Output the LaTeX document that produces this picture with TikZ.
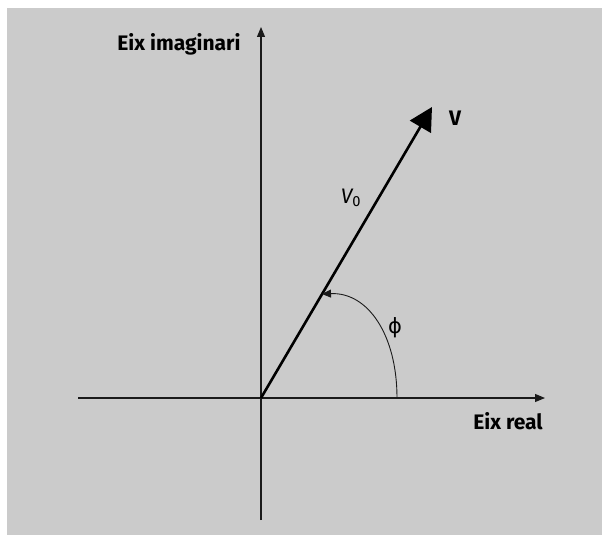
\documentclass[tikz,border=0pt]{standalone}
\usepackage{fontspec}
\setmainfont{Fira Sans}
\newfontfamily\symfont{DejaVu Sans}
\usetikzlibrary{arrows.meta}
\definecolor{panel}{HTML}{CBCBCB}
\definecolor{ink}{HTML}{1A1A1A}
\tikzset{
  axis/.style={ink,line width=1.1pt,-{Triangle[length=10pt,width=8pt]}},
  phasor/.style={black,line width=2.6pt,-{Triangle[length=23pt,width=24pt]}},
  anglearc/.style={ink,line width=0.9pt,-{Triangle[length=9pt,width=8pt]}},
  axlabel/.style={font=\fontsize{21}{25}\selectfont\bfseries}
}

\begin{document}
\begin{tikzpicture}[x=1pt,y=-1pt,font=\fontsize{21}{25}\selectfont]
  \useasboundingbox (0,0) rectangle (602,535);
  \fill[panel] (7,8) rectangle (602,535);
  % axes and phasor
  \coordinate (O) at (261,398);
  \coordinate (xl) at (78,398);
  \coordinate (xr) at (545,398);
  \coordinate (yb) at (261,520);
  \coordinate (yt) at (261,27);
  \coordinate (vtip) at (432,107);
  \coordinate (arcstart) at (397,398);
  \coordinate (arcend) at (322,294);
  \draw[axis] (xl) -- (xr);
  \draw[axis] (yb) -- (yt);
  \draw[phasor] (O) -- (vtip);
  \draw[anglearc] (arcstart) .. controls (397,335) and (368,292) .. (arcend);
  % labels
  \node[axlabel] (imlab) at (179,44) {Eix imaginari};
  \node[axlabel] (relab) at (508,421) {Eix real};
  \node[axlabel] (vlab) at (455,118) {V};
  \node (vzero) at (351,198) {\itshape V\textsubscript{\upshape 0}};
  \node (philab) at (395,328) {\symfont ϕ};
\end{tikzpicture}
\end{document}
